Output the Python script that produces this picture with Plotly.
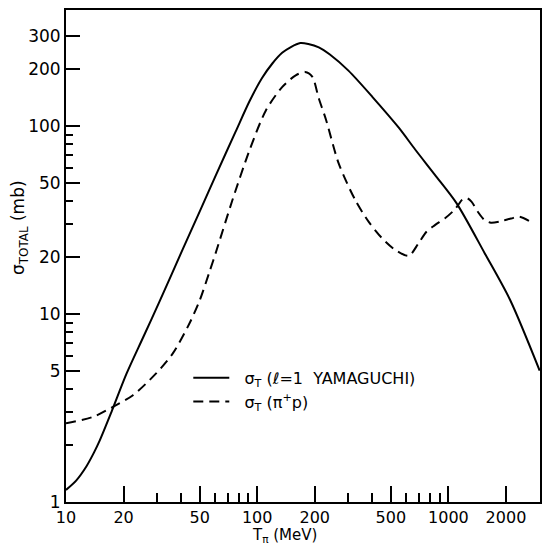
import plotly.graph_objects as go

# Solid curve: sigma_T (l=1 Yamaguchi)
T_yamaguchi = [10, 11.3, 12.8, 14, 15, 17.3, 20.7, 25.3, 30.9, 40.7, 50, 60.9, 77, 91, 106,
               120, 135, 150, 168, 185, 210, 240, 300, 400, 550, 670, 850, 1100, 1550, 2100,
               3000]
sigma_yamaguchi = [1.16, 1.30, 1.55, 1.83, 2.12, 3.02, 4.8, 7.5, 11.7, 22, 35, 55, 93, 135,
                   180, 215, 245, 263, 276, 273, 262, 240, 197, 143, 98, 75, 55, 39, 21, 11.9,
                   5.0]

# Dashed curve: sigma_T (pi+ p)
T_pip = [10, 13.9, 17.6, 22.4, 29.6, 36.2, 44.2, 50, 56, 61, 74, 91, 111, 135, 159, 178, 194,
         210, 229, 267, 326, 384, 448, 528, 620, 696, 768, 850, 960, 1066, 1125, 1180, 1250,
         1320, 1425, 1545, 1670, 1890, 2130, 2350, 2650]
sigma_pip = [2.62, 2.84, 3.21, 3.7, 4.83, 6.17, 8.9, 11.8, 16.5, 21.5, 40, 74, 121, 161, 186,
             194, 183, 140, 108, 63, 40.3, 30.8, 25.4, 21.9, 20.4, 23.7, 27.4, 29.7, 32.3, 35.5,
             38, 40.5, 41.3, 39.6, 35, 31.6, 30.6, 31.2, 32.2, 32.9, 31.2]

x_tickvals = [10, 20, 50, 100, 200, 500, 1000, 2000]
x_minor = [30, 40, 60, 70, 80, 90, 300, 400, 600, 700, 800, 900]
y_tickvals = [1, 5, 10, 20, 50, 100, 200, 300]
y_minor = [2, 3, 4, 6, 7, 8, 9, 30, 40, 60, 70, 80, 90]

FONT = "DejaVu Sans"
NB = "\u00a0\u00a0"

fig = go.Figure()
fig.add_trace(go.Scatter(
    x=T_yamaguchi, y=sigma_yamaguchi, mode="lines", line_shape="spline",
    line=dict(color="black", width=2, smoothing=0.8),
    name=NB + "σ<sub>T</sub> (ℓ=1  YAMAGUCHI)"))
fig.add_trace(go.Scatter(
    x=T_pip, y=sigma_pip, mode="lines", line_shape="spline",
    line=dict(color="black", width=2, dash="10px,6px", smoothing=0.8),
    name=NB + "σ<sub>T</sub> (π<sup>+</sup>p)"))

fig.update_layout(
    width=544, height=548,
    margin=dict(l=66, r=2, t=10, b=46),
    paper_bgcolor="white", plot_bgcolor="white",
    font=dict(family=FONT, color="black", size=16),
    showlegend=True,
    legend=dict(x=0.258, y=0.287, xanchor="left", yanchor="top",
                bgcolor="rgba(0,0,0,0)", font=dict(size=16, family=FONT),
                itemwidth=36, tracegroupgap=0),
    xaxis=dict(type="log", range=[1, 3.479], tickmode="array", tickvals=x_tickvals,
               ticktext=[str(v) for v in x_tickvals], ticks="inside", ticklen=16,
               tickwidth=1.5, tickcolor="black", showgrid=False, zeroline=False,
               showline=True, linecolor="black", linewidth=2, mirror=True,
               tickfont=dict(size=16),
               minor=dict(tickmode="array", tickvals=x_minor, ticks="inside",
                          ticklen=9, tickwidth=1.5, tickcolor="black", showgrid=False)),
    yaxis=dict(type="log", range=[0, 2.617], tickmode="array", tickvals=y_tickvals,
               ticktext=[str(v) for v in y_tickvals], ticks="inside", ticklen=14,
               tickwidth=1.5, tickcolor="black", showgrid=False, zeroline=False,
               showline=True, linecolor="black", linewidth=2, mirror=True,
               tickfont=dict(size=17),
               minor=dict(tickmode="array", tickvals=y_minor, ticks="inside",
                          ticklen=7, tickwidth=1.5, tickcolor="black", showgrid=False)),
    annotations=[
        dict(text="σ<sub>TOTAL</sub> (mb)", xref="paper", yref="paper",
             x=-0.097, y=0.557, textangle=-90, showarrow=False,
             font=dict(size=17, family=FONT), xanchor="center", yanchor="middle"),
        dict(text="T<sub>π</sub> (MeV)", xref="paper", yref="paper",
             x=0.46, y=-0.0905, showarrow=False,
             font=dict(size=15, family=FONT), xanchor="center", yanchor="bottom"),
    ],
)

fig.write_html("out.html", config={"displayModeBar": False},
               post_script="document.body.style.margin='0px';")
